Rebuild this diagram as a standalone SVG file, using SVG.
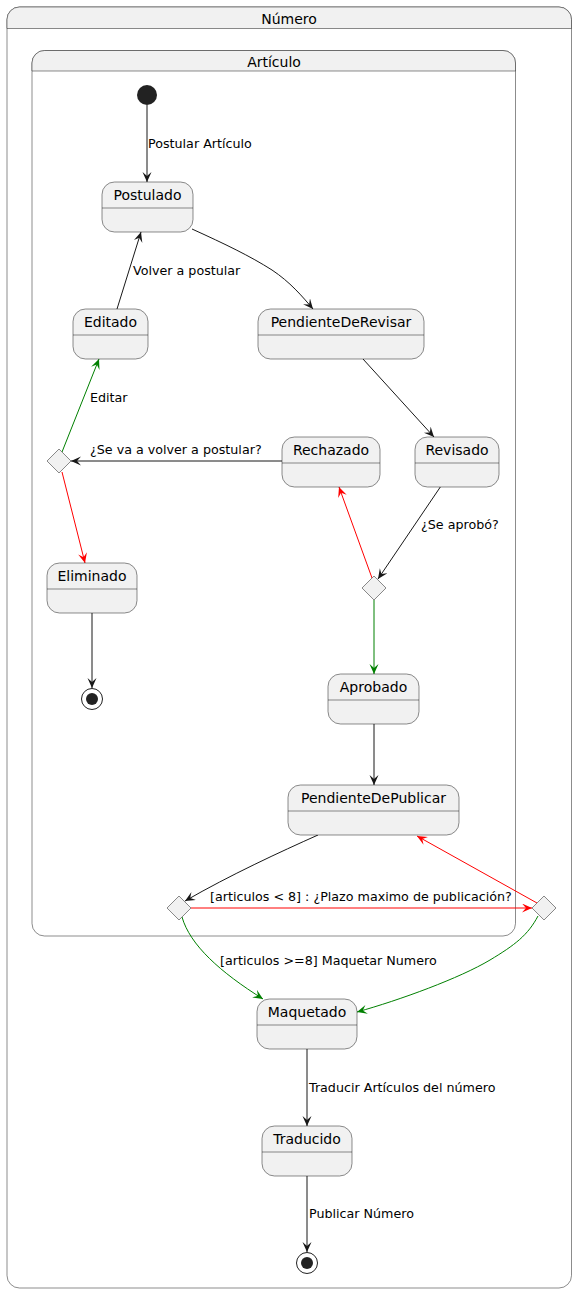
<svg xmlns="http://www.w3.org/2000/svg" width="577" height="1294" viewBox="0 0 577 1294">
<style>
.st{fill:#F1F1F1;stroke:#181818;stroke-width:0.5}
.sep{stroke:#181818;stroke-width:0.5}
.nm{font-family:"DejaVu Sans",Verdana,sans-serif;font-size:14px;fill:#000;text-anchor:middle}
.lb{font-family:"DejaVu Sans",Verdana,sans-serif;font-size:12.7px;fill:#000}
.k{fill:none;stroke:#181818;stroke-width:1;marker-end:url(#ak)}
.r{fill:none;stroke:#FF0000;stroke-width:1;marker-end:url(#ar)}
.g{fill:none;stroke:#008000;stroke-width:1;marker-end:url(#ag)}
.dm{fill:#F1F1F1;stroke:#181818;stroke-width:0.5}
</style>
<defs>
<marker id="ak" markerUnits="userSpaceOnUse" markerWidth="12" markerHeight="12" refX="10" refY="4.5" orient="auto"><path d="M0,0 L10,4.5 L0,9 L4,4.5 Z" fill="#181818"/></marker>
<marker id="ar" markerUnits="userSpaceOnUse" markerWidth="12" markerHeight="12" refX="10" refY="4.5" orient="auto"><path d="M0,0 L10,4.5 L0,9 L4,4.5 Z" fill="#FF0000"/></marker>
<marker id="ag" markerUnits="userSpaceOnUse" markerWidth="12" markerHeight="12" refX="10" refY="4.5" orient="auto"><path d="M0,0 L10,4.5 L0,9 L4,4.5 Z" fill="#008000"/></marker>
</defs>
<rect width="577" height="1294" fill="#FFFFFF"/>
<g id="Numero">
<rect x="7" y="7" width="564.5" height="1281" rx="12.5" fill="#FFFFFF" stroke="#181818" stroke-width="0.5"/>
<path d="M7,28.5 V19.5 A12.5,12.5 0 0 1 19.5,7 H559 A12.5,12.5 0 0 1 571.5,19.5 V28.5 Z" fill="#F1F1F1" stroke="#181818" stroke-width="0.5"/>
<text class="nm" x="289" y="24">Número</text>
</g>
<g id="Articulo">
<rect x="32" y="50.5" width="483.5" height="885.5" rx="12.5" fill="#FFFFFF" stroke="#181818" stroke-width="0.5"/>
<path d="M32,71 V63 A12.5,12.5 0 0 1 44.5,50.5 H503 A12.5,12.5 0 0 1 515.5,63 V71 Z" fill="#F1F1F1" stroke="#181818" stroke-width="0.5"/>
<text class="nm" x="274" y="67">Artículo</text>
</g>
<g id="connectors">
<path class="k" d="M147,105 L147,182"/>
<text class="lb" x="148" y="148">Postular Artículo</text>
<path class="k" d="M192,229 C225,244 250,256 272,270 C290,282 302,296 313,309"/>
<path class="k" d="M117,309 L141,232"/>
<text class="lb" x="133" y="275">Volver a postular</text>
<path class="k" d="M363,359 L434,437"/>
<path class="k" d="M441,486 L378,579"/>
<text class="lb" x="421" y="529">¿Se aprobó?</text>
<path class="r" d="M372,578 L339,487"/>
<path class="g" d="M374,600 L374,674"/>
<path class="k" d="M282,461 L71,461"/>
<text class="lb" x="90" y="454">¿Se va a volver a postular?</text>
<path class="g" d="M62,452 L99,359"/>
<text class="lb" x="90" y="402">Editar</text>
<path class="r" d="M62,472 L85,563"/>
<path class="k" d="M92,613 L92,688"/>
<path class="k" d="M374,724 L374,785"/>
<path class="k" d="M318,835 C280,852 230,875 185,901"/>
<path class="r" d="M191,908 L532,908"/>
<text class="lb" x="210" y="901">[articulos &lt; 8] : ¿Plazo maximo de publicación?</text>
<path class="r" d="M537,903 L417,836"/>
<path class="g" d="M182,917 C190,945 220,972 263,999"/>
<text class="lb" x="220" y="965">[articulos &gt;=8] Maquetar Numero</text>
<path class="g" d="M538,916 C528,935 515,945 490,960 C460,978 400,1000 357,1012"/>
<path class="k" d="M307,1049 L307,1126"/>
<text class="lb" x="309" y="1092">Traducir Artículos del número</text>
<path class="k" d="M307,1176 L307,1252"/>
<text class="lb" x="309" y="1218">Publicar Número</text>
</g>
<g id="inicio"><circle cx="147" cy="95" r="10" fill="#222222"/></g>
<g id="Postulado"><rect class="st" x="102" y="182" width="91" height="50" rx="12.5"/><line class="sep" x1="102" y1="208" x2="193" y2="208"/><text class="nm" x="147.5" y="200">Postulado</text></g>
<g id="Editado"><rect class="st" x="73" y="309" width="75" height="50" rx="12.5"/><line class="sep" x1="73" y1="335" x2="148" y2="335"/><text class="nm" x="110.5" y="327">Editado</text></g>
<g id="PendienteDeRevisar"><rect class="st" x="258" y="309" width="166" height="50" rx="12.5"/><line class="sep" x1="258" y1="335" x2="424" y2="335"/><text class="nm" x="341" y="327">PendienteDeRevisar</text></g>
<g id="Rechazado"><rect class="st" x="282" y="437" width="98" height="50" rx="12.5"/><line class="sep" x1="282" y1="463" x2="380" y2="463"/><text class="nm" x="331" y="455">Rechazado</text></g>
<g id="Revisado"><rect class="st" x="415" y="437" width="84" height="50" rx="12.5"/><line class="sep" x1="415" y1="463" x2="499" y2="463"/><text class="nm" x="457" y="455">Revisado</text></g>
<g id="decision_postular"><polygon class="dm" points="59,449 71,461 59,473 47,461"/></g>
<g id="decision_aprobo"><polygon class="dm" points="374,576 386,588 374,600 362,588"/></g>
<g id="Eliminado"><rect class="st" x="47" y="563" width="90" height="50" rx="12.5"/><line class="sep" x1="47" y1="589" x2="137" y2="589"/><text class="nm" x="92" y="581">Eliminado</text></g>
<g id="fin_articulo"><circle cx="92" cy="699" r="10.5" fill="#FFFFFF" stroke="#222222" stroke-width="1"/><circle cx="92" cy="699" r="6" fill="#222222"/></g>
<g id="Aprobado"><rect class="st" x="328" y="674" width="91" height="50" rx="12.5"/><line class="sep" x1="328" y1="700" x2="419" y2="700"/><text class="nm" x="373.5" y="692">Aprobado</text></g>
<g id="PendienteDePublicar"><rect class="st" x="288" y="785" width="171" height="50" rx="12.5"/><line class="sep" x1="288" y1="811" x2="459" y2="811"/><text class="nm" x="373.5" y="803">PendienteDePublicar</text></g>
<g id="decision_articulos"><polygon class="dm" points="179,896 191,908 179,920 167,908"/></g>
<g id="decision_plazo"><polygon class="dm" points="544,896 556,908 544,920 532,908"/></g>
<g id="Maquetado"><rect class="st" x="257" y="999" width="100" height="50" rx="12.5"/><line class="sep" x1="257" y1="1025" x2="357" y2="1025"/><text class="nm" x="307" y="1017">Maquetado</text></g>
<g id="Traducido"><rect class="st" x="262" y="1126" width="90" height="50" rx="12.5"/><line class="sep" x1="262" y1="1152" x2="352" y2="1152"/><text class="nm" x="307" y="1144">Traducido</text></g>
<g id="fin_numero"><circle cx="307" cy="1263" r="10.5" fill="#FFFFFF" stroke="#222222" stroke-width="1"/><circle cx="307" cy="1263" r="6" fill="#222222"/></g>
</svg>
